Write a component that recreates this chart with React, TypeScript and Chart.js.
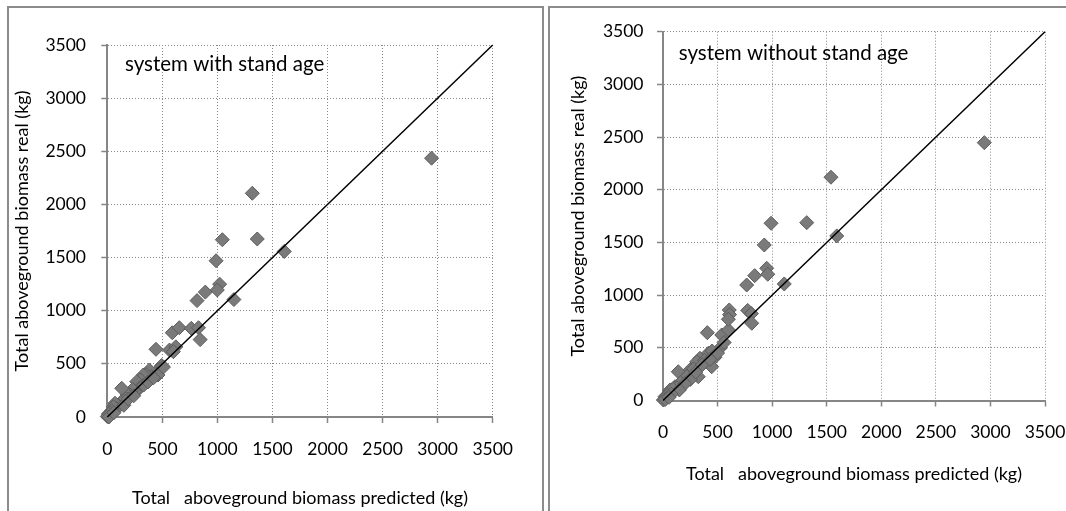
import React, { useEffect, useRef } from "react";
import { Chart, registerables } from "chart.js";

Chart.register(...registerables);
Chart.defaults.font.family = "Lato";

// ---------- data ----------
const axisTickValues = [0, 500, 1000, 1500, 2000, 2500, 3000, 3500];
const oneToOneLine = [0, 3500];

const titleWithAge = "system with stand age";
const titleWithoutAge = "system without stand age";
const xAxisTitle = "Total   aboveground biomass predicted (kg)";
const yAxisTitle = "Total aboveground biomass real (kg)";

// system with stand age: predicted (x) / real (y), kg
const predictedWithAge = [
  2945, 1317, 1045, 1362, 1607, 988, 1020, 999, 890, 815, 1150,
  590, 654, 763, 828, 843, 442, 565, 622, 600,
  494, 475, 463, 433, 460, 382, 400, 350, 327, 300, 267, 291, 250, 230, 206,
  180, 160, 131, 145, 120, 100, 70, 85, 55, 40, 25, 10, 0, 15, 150, 190, 330,
  370, 420, 510, 60, 240,
];
const realWithAge = [
  2435, 2105, 1668, 1675, 1558, 1470, 1250, 1195, 1175, 1095, 1105,
  793, 840, 834, 840, 728, 637, 630, 660, 615,
  485, 450, 442, 411, 395, 442, 380, 400, 395, 350, 332, 270, 240, 260, 207,
  215, 175, 270, 150, 135, 110, 129, 80, 97, 60, 40, 28, 5, 0, 110, 170, 300,
  330, 370, 470, 40, 200,
];

// system without stand age: predicted (x) / real (y), kg
const predictedWithoutAge = [
  2944, 1539, 990, 1317, 1592, 928, 950, 960, 840, 767, 1111,
  607, 610, 776, 810, 813, 406, 538, 600, 599,
  522, 476, 446, 415, 450, 339, 309, 323, 247, 140, 186, 110, 64, 18, 3,
  380, 280, 220, 160, 130, 90, 40, 20, 500, 360, 250, 200, 150, 75, 430,
  300, 55, 560,
];
const realWithoutAge = [
  2447, 2119, 1682, 1688, 1562, 1476, 1255, 1198, 1185, 1096, 1106,
  859, 815, 855, 825, 733, 644, 622, 669, 771,
  496, 410, 321, 448, 470, 400, 368, 226, 290, 273, 195, 131, 100, 36, 5,
  380, 300, 230, 170, 120, 110, 50, 10, 450, 340, 200, 160, 100, 60, 390,
  270, 30, 550,
];

// ---------- plugin: in-plot caption ----------
const panelCaption = {
  id: "panelCaption",
  afterDraw(chart: any, _args: any, opts: any) {
    const { ctx, chartArea } = chart;
    ctx.save();
    ctx.font = `${opts.size}px Lato`;
    ctx.fillStyle = "#000";
    ctx.textBaseline = "alphabetic";
    ctx.textAlign = "left";
    ctx.fillText(opts.text, chartArea.left + opts.dx, chartArea.top + opts.dy);
    ctx.restore();
  },
};

type Geom = {
  canvasLeft: number;
  width: number;
  padTop: number;
  padRight: number;
  yWidth: number;
  xHeight: number;
  yTitlePad: number;
  xTitlePad: number;
  xTickPad: number;
  yTickPad: number;
  capDx: number;
  capDy: number;
};

const tickFont = { size: 17.5 };
const titleFont = { size: 18 };

function Panel(props: { geom: Geom; caption: string; xs: number[]; ys: number[] }) {
  const ref = useRef<HTMLCanvasElement>(null);
  const { geom, caption, xs, ys } = props;

  useEffect(() => {
    if (!ref.current) return;
    const gridCommon = {
      color: "#888888",
      lineWidth: 1,
      tickLength: 6,
      tickColor: "#868686",
      tickWidth: 1.5,
      tickBorderDash: [],
    };
    const borderCommon = { color: "#868686", width: 2, dash: [1, 2] };
    const plainLabel = (v: any) => String(v);
    const chart = new Chart(ref.current, {
      type: "scatter",
      data: {
        datasets: [
          {
            data: oneToOneLine.map((v) => ({ x: v, y: v })),
            showLine: true,
            borderColor: "#000",
            borderWidth: 1.5,
            pointRadius: 0,
            clip: false,
          } as any,
          {
            data: xs.map((x, i) => ({ x, y: ys[i] })),
            pointStyle: "rectRot",
            pointRadius: 7,
            backgroundColor: "#7a7a7a",
            borderColor: "#5c5c5c",
            borderWidth: 1,
            clip: false,
          } as any,
        ],
      },
      options: {
        animation: false,
        responsive: false,
        events: [],
        layout: {
          padding: { left: 0, top: geom.padTop, right: geom.padRight, bottom: 0 },
        },
        plugins: {
          legend: { display: false },
          tooltip: { enabled: false },
          panelCaption: { text: caption, size: 20.5, dx: geom.capDx, dy: geom.capDy },
        } as any,
        scales: {
          x: {
            type: "linear",
            min: 0,
            max: 3500,
            afterBuildTicks: (s: any) => {
              s.ticks = axisTickValues.map((v) => ({ value: v }));
            },
            grid: gridCommon as any,
            border: borderCommon as any,
            ticks: {
              color: "#000",
              font: tickFont,
              padding: geom.xTickPad,
              maxRotation: 0,
              autoSkip: false,
              callback: plainLabel,
            },
            title: {
              display: true,
              text: xAxisTitle,
              color: "#000",
              font: titleFont,
              padding: { top: 0, bottom: geom.xTitlePad },
            },
            afterFit: (s: any) => {
              s.height = geom.xHeight;
              s.paddingLeft = 0;
              s.paddingRight = 0;
            },
          },
          y: {
            type: "linear",
            min: 0,
            max: 3500,
            afterBuildTicks: (s: any) => {
              s.ticks = axisTickValues.map((v) => ({ value: v }));
            },
            grid: gridCommon as any,
            border: borderCommon as any,
            ticks: {
              color: "#000",
              font: tickFont,
              padding: geom.yTickPad,
              autoSkip: false,
              callback: plainLabel,
            },
            title: {
              display: true,
              text: yAxisTitle,
              color: "#000",
              font: titleFont,
              padding: { top: geom.yTitlePad, bottom: 0 },
            },
            afterFit: (s: any) => {
              s.width = geom.yWidth;
              s.paddingTop = 0;
              s.paddingBottom = 0;
            },
          },
        },
      },
      plugins: [panelCaption as any],
    });
    return () => chart.destroy();
  }, []);

  return (
    <canvas
      ref={ref}
      width={geom.width}
      height={511}
      style={{ position: "absolute", left: geom.canvasLeft, top: 0, width: geom.width, height: 511 }}
    />
  );
}

const leftGeom: Geom = {
  canvasLeft: 0,
  width: 540,
  padTop: 45,
  padRight: 47.3,
  yWidth: 107.3,
  xHeight: 94,
  yTitlePad: 11.6,
  xTitlePad: 2.2,
  xTickPad: 15.5,
  yTickPad: 15.3,
  capDx: 17.7,
  capDy: 26,
};

const rightGeom: Geom = {
  canvasLeft: 550,
  width: 516,
  padTop: 31.7,
  padRight: 21,
  yWidth: 113,
  xHeight: 110.5,
  yTitlePad: 17.1,
  xTitlePad: 26.2,
  xTickPad: 15,
  yTickPad: 13.5,
  capDx: 15.7,
  capDy: 28.5,
};

export default function App() {
  return (
    <div
      style={{
        position: "fixed",
        left: 0,
        top: 0,
        width: 1066,
        height: 511,
        background: "#fff",
        overflow: "hidden",
      }}
    >
      <div
        style={{
          position: "absolute",
          left: 7,
          top: 6,
          width: 537,
          height: 600,
          border: "2px solid #8c8c8c",
          boxSizing: "border-box",
        }}
      />
      <div
        style={{
          position: "absolute",
          left: 548,
          top: 6,
          width: 600,
          height: 600,
          border: "2px solid #8c8c8c",
          boxSizing: "border-box",
        }}
      />
      <Panel geom={leftGeom} caption={titleWithAge} xs={predictedWithAge} ys={realWithAge} />
      <Panel geom={rightGeom} caption={titleWithoutAge} xs={predictedWithoutAge} ys={realWithoutAge} />
    </div>
  );
}
